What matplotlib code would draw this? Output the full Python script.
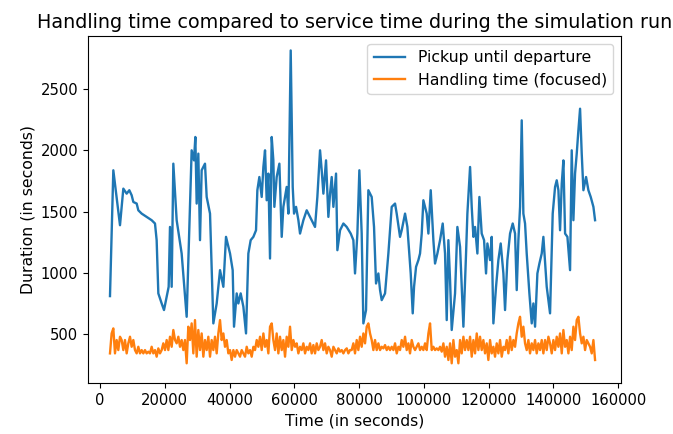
import matplotlib
matplotlib.use('Agg')
import matplotlib.pyplot as plt

# Pickup until departure (blue)
pickup_t = [3090, 4120, 6180, 7210, 8240, 9060, 9780, 10300, 11330, 11840,
            12870, 14410, 15960, 16990, 17500, 18020, 19050, 19770, 20590, 21210,
            21620, 22140, 22650, 23680, 25220, 26770, 27800, 28310, 29030, 29450,
            29860, 30370, 30890, 31400, 32430, 32950, 33980, 35010, 36040, 37070,
            38100, 38920, 40160, 40980, 41390, 42220, 42730, 43450, 44280, 45100,
            45820, 46540, 47370, 48190, 48600, 49220, 49940, 50460, 50970, 51480,
            52000, 52510, 53030, 53540, 53850, 54570, 55400, 56120, 56630, 57660,
            58180, 58900, 59520, 59930, 60550, 61270, 61780, 62810, 63840, 64870,
            65900, 66410, 67130, 67960, 68470, 68990, 69810, 70530, 71050, 71560,
            72080, 72900, 73310, 74140, 75170, 76190, 77430, 78250, 78760, 79490,
            80100, 80820, 81340, 82160, 82880, 83910, 84630, 85250, 85970, 86490,
            87000, 88030, 89060, 90090, 91120, 91630, 92660, 93180, 94210, 94930,
            95960, 96580, 96990, 97610, 98330, 98840, 99360, 99870, 100900, 101420,
            102140, 102960, 103470, 104200, 105020, 105840, 106560, 107080, 107590, 108110,
            108620, 109650, 110370, 111200, 112230, 113050, 113460, 114290, 114800, 115320,
            115830, 116550, 117170, 117880, 118610, 119220, 119640, 120460, 120970, 121490,
            122310, 123030, 123750, 124580, 125090, 125810, 126640, 127460, 128180, 128700,
            129210, 129730, 130240, 130750, 131270, 131780, 132610, 133330, 133840, 134360,
            135080, 135700, 136420, 136930, 137960, 138990, 139810, 140540, 141050, 141570,
            142080, 142600, 143110, 143630, 144350, 145170, 145680, 146200, 146710, 147230,
            147740, 148260, 148770, 149290, 150110, 150830, 151550, 152380, 152890]
pickup_v = [810, 1838, 1389, 1688, 1647, 1675, 1634, 1579, 1566, 1511,
            1484, 1457, 1430, 1403, 1267, 832, 750, 696, 804, 886,
            1375, 886, 1892, 1430, 1158, 641, 1539, 2001, 1919, 2110,
            1566, 1974, 1267, 1838, 1892, 1620, 1484, 587, 750, 1022,
            886, 1294, 1158, 1022, 560, 832, 750, 832, 723, 505,
            1158, 1267, 1294, 1348, 1675, 1783, 1620, 1865, 2001, 1593,
            1811, 1117, 2110, 1919, 1539, 1783, 1892, 1294, 1539, 1702,
            1484, 2817, 1702, 1484, 1539, 1430, 1321, 1430, 1511, 1457,
            1403, 1375, 1620, 2001, 1838, 1647, 1919, 1457, 1647, 1783,
            1539, 1811, 1185, 1348, 1403, 1375, 1321, 1267, 995, 1321,
            1838, 1321, 587, 696, 1675, 1620, 1375, 913, 995, 859,
            777, 832, 1158, 1539, 1566, 1484, 1294, 1348, 1484, 1375,
            995, 669, 886, 1049, 1104, 1158, 1321, 1593, 1484, 1321,
            1675, 1267, 1076, 1158, 1267, 1403, 1158, 614, 1267, 940,
            533, 832, 1375, 1212, 560, 1158, 1484, 1865, 1539, 1294,
            1375, 1158, 1620, 1321, 1267, 995, 1240, 1104, 1294, 587,
            886, 1104, 1240, 995, 696, 1104, 1321, 1403, 1321, 859,
            1267, 1539, 2246, 1484, 1403, 1158, 832, 587, 750, 560,
            995, 1076, 1158, 1294, 886, 669, 1484, 1702, 1756, 1675,
            1348, 1729, 1919, 1321, 1294, 1022, 2001, 1430, 1811, 1974,
            2164, 2341, 1974, 1675, 1783, 1675, 1620, 1539, 1430]

# Handling time (focused) (orange)
handling_t = [3090, 3600, 4120, 4630, 5150, 5660, 6180, 6690, 7210, 7720,
              8240, 8750, 9270, 9780, 10300, 10810, 11330, 11840, 12360, 12870,
              13390, 13900, 14410, 14930, 15440, 15960, 16470, 16990, 17500, 18020,
              18530, 19050, 19560, 20080, 20590, 21110, 21620, 22140, 22650, 23170,
              23680, 24200, 24710, 25220, 25740, 26250, 26770, 27280, 27800, 28310,
              28830, 29340, 29860, 30370, 30890, 31400, 31920, 32430, 32950, 33460,
              33980, 34490, 35010, 35520, 36040, 36550, 37070,
              37580, 38100, 38610, 39130, 39640, 40160, 40670, 41190, 41700, 42220,
              42730, 43250, 43760, 44280, 44790, 45310, 45820, 46340, 46850, 47370,
              47880, 48400, 48910, 49430, 49940, 50460, 50970, 51490, 52000, 52510,
              53030, 53540, 54060, 54570, 55090, 55600, 56120, 56630, 57150, 57660,
              58180, 58690, 59210, 59720, 60240, 60750, 61270, 61780, 62300, 62810,
              63330, 63840, 64360, 64870, 65380, 65900, 66410, 66930, 67440, 67960,
              68470, 68990, 69500, 70020, 70530, 71050, 71560, 72080, 72590, 73110,
              73620, 74140, 74650, 75170, 75680, 76200, 76710, 77220,
              77730, 78250, 78760, 79280, 79790, 80310, 80820, 81340, 81850, 82370,
              82880, 83400, 83910, 84430, 84940, 85460, 85970, 86490, 87000, 87520,
              88030, 88550, 89060, 89580, 90090, 90610, 91120, 91640, 92150, 92660,
              93180, 93690, 94210, 94720, 95240, 95750, 96270, 96780, 97300, 97810,
              98330, 98840, 99360, 99870, 100390, 100900, 101420, 101930, 102450, 102960,
              103480, 103990, 104510, 105020, 105530, 106050, 106560, 107080, 107590, 108110,
              108620, 109140, 109650, 110170, 110680, 111200, 111710, 112230, 112740, 113260,
              113770, 114290, 114800, 115320, 115830, 116350, 116860, 117370,
              117880, 118400, 118910, 119430, 119940, 120460, 120970, 121490, 122000, 122520,
              123030, 123550, 124060, 124580, 125090, 125610, 126120, 126640, 127150, 127670,
              128180, 128690, 129210, 129720, 130240, 130750, 131270, 131780, 132300, 132810,
              133330, 133840, 134360, 134870, 135390, 135900, 136420, 136930, 137450, 137960,
              138480, 138990, 139510, 140020, 140540, 141050, 141570, 142080, 142600, 143110,
              143630, 144140, 144660, 145170, 145680, 146200, 146710, 147230, 147740, 148260,
              148770, 149290, 149800, 150320, 150830, 151350, 151860, 152380, 152890]
handling_v = [342, 505, 546, 342, 451, 369, 478, 451, 369, 451,
              342, 424, 478, 396, 451, 369, 342, 396, 342, 369,
              342, 369, 342, 356, 342, 396, 342, 369, 315, 383,
              342, 369, 424, 369, 451, 369, 478, 396, 533, 451,
              424, 478, 396, 451, 369, 451, 261, 560, 451, 587,
              342, 614, 315, 533, 369, 505, 315, 451, 369, 478,
              315, 451, 369, 478, 342, 505, 614,
              451, 505, 396, 451, 342, 369, 288, 369, 315, 369,
              342, 315, 369, 342, 315, 396, 342, 369, 315, 396,
              369, 451, 396, 478, 369, 505, 396, 451, 342, 560,
              587, 451, 369, 505, 342, 478, 369, 451, 315, 478,
              396, 560, 369, 451, 396, 424, 342, 396, 369, 424,
              342, 396, 369, 424, 342, 410, 342, 424, 369, 396,
              451, 369, 424, 342, 396, 369, 315, 396, 369, 342,
              383, 356, 369, 342, 369, 383, 342, 369,
              369, 424, 342, 451, 369, 478, 396, 505, 424, 560,
              587, 505, 451, 369, 451, 369, 424, 369, 396, 383,
              410, 369, 396, 369, 396, 369, 424, 342, 396, 369,
              451, 396, 478, 369, 424, 342, 451, 396, 369, 396,
              424, 369, 396, 369, 424, 369, 505, 587, 369, 396,
              369, 383, 369, 396, 356, 424, 315, 396, 288, 424,
              261, 451, 315, 369, 261, 451, 342, 478, 369, 451,
              369, 478, 315, 451, 342, 505, 369, 478,
              369, 451, 342, 424, 288, 451, 342, 396, 315, 424,
              342, 451, 315, 396, 369, 451, 342, 478, 369, 451,
              396, 505, 587, 641, 478, 560, 424, 369, 451, 342,
              424, 369, 451, 342, 424, 369, 451, 342, 451, 369,
              478, 424, 342, 451, 369, 478, 396, 505, 342, 533,
              396, 451, 342, 478, 369, 560, 451, 614, 641, 505,
              424, 478, 369, 451, 424, 396, 342, 451, 288]

fig = plt.figure(figsize=(6.73, 4.34), dpi=100)
ax = fig.add_axes([88 / 673, 51 / 434, 533 / 673, 347 / 434])

ax.plot(pickup_t, pickup_v, lw=1.7, label='Pickup until departure')
ax.plot(handling_t, handling_v, lw=1.7, label='Handling time (focused)')

ax.set_xlim(-3700, 160900)
ax.set_ylim(100, 2935)
ax.tick_params(labelsize=10.6)
ax.set_title('Handling time compared to service time during the simulation run',
             fontsize=13.8)
ax.set_xlabel('Time (in seconds)', fontsize=11.3)
ax.set_ylabel('Duration (in seconds)', fontsize=11.3)
ax.legend(loc='upper right', fontsize=11.3)

fig.savefig('out.png', dpi=100)
